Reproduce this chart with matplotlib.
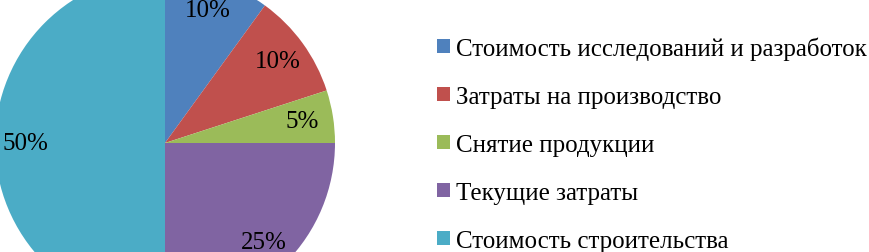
import matplotlib.pyplot as plt

labels = [
    "Стоимость исследований и разработок",
    "Затраты на производство",
    "Снятие продукции",
    "Текущие затраты",
    "Стоимость строительства",
]
shares = [10, 10, 5, 25, 50]
colors = ["#4F81BD", "#C0504D", "#9BBB59", "#8064A2", "#4BACC6"]

plt.rcParams["font.family"] = ["Liberation Serif", "DejaVu Serif"]

W, H = 869, 253
cx, cy, r = 165, 144, 170

fig = plt.figure(figsize=(W / 100, H / 100), dpi=100)
ax = fig.add_axes([0, 0, 1, 1])

wedges, texts, autotexts = ax.pie(
    shares,
    colors=colors,
    startangle=90,
    counterclock=False,
    radius=1,
    autopct="%d%%",
    pctdistance=0.82,
    textprops={"fontsize": 18, "color": "black"},
)

# pie radius 1 -> r pixels, centre at (cx, cy) from top-left
ax.set_aspect("auto")
ax.set_xlim(-cx / r, (W - cx) / r)
ax.set_ylim(-(H - cy) / r, cy / r)
ax.axis("off")

fig.legend(
    wedges,
    labels,
    loc="center left",
    bbox_to_anchor=(437 / W, 1 - 145 / H),
    frameon=False,
    fontsize=18,
    handlelength=0.5,
    handleheight=0.5,
    handletextpad=0.25,
    labelspacing=1.04,
    borderpad=0,
    borderaxespad=0,
)

fig.savefig("out.png", dpi=100)
